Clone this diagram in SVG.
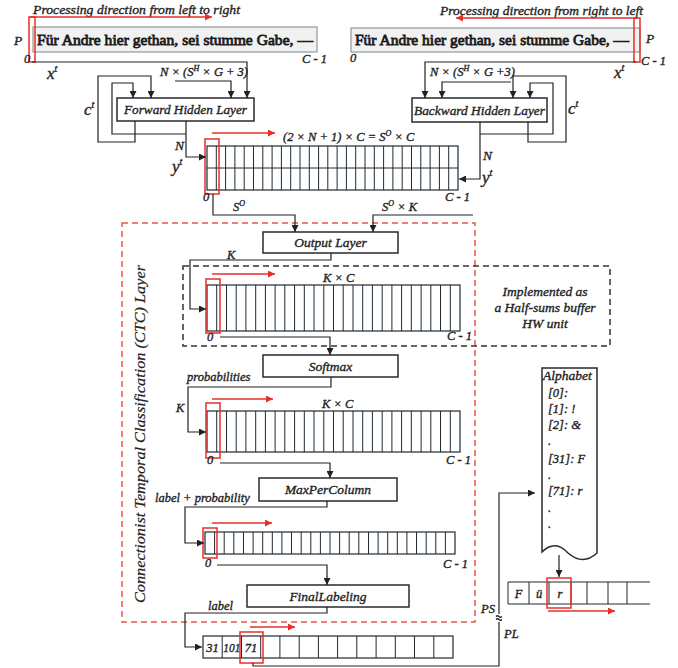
<svg xmlns="http://www.w3.org/2000/svg" width="678" height="668" viewBox="0 0 678 668" font-family="Liberation Serif, serif">
<defs>
<marker id="ah" viewBox="0 0 10 10" refX="10" refY="5" markerWidth="9" markerHeight="7" markerUnits="userSpaceOnUse" orient="auto"><path d="M0,0 L10,5 L0,10 z" fill="#222"/></marker>
<marker id="ahr" viewBox="0 0 10 10" refX="10" refY="5" markerWidth="13" markerHeight="7" markerUnits="userSpaceOnUse" orient="auto"><path d="M0,0 L10,5 L0,10 z" fill="#e3302b"/></marker>
<style>
text{font-family:'Liberation Serif',serif}
.t{font-style:italic;font-weight:normal;fill:#222;stroke:#222;stroke-width:0.35;font-size:12.5px}
.b{font-size:13.5px}
.big{font-size:17px}
.box{fill:#fff;stroke:#2a2a2a;stroke-width:1.5}
.buf{fill:#fff;stroke:#1f2a33;stroke-width:1.2}
.cells{fill:none;stroke:#1f2a33;stroke-width:1}
.red{fill:none;stroke:#e3302b;stroke-width:1.5}
.ra{fill:none;stroke:#e3302b;stroke-width:1.5;marker-end:url(#ahr)}
.c{fill:none;stroke:#222;stroke-width:1.2}
.ca{fill:none;stroke:#222;stroke-width:1.2;marker-end:url(#ah)}
.strip{fill:#f1f1f1;stroke:#7a8790;stroke-width:1}
.frak{font-weight:normal;font-size:15.5px;fill:#1a1a1a;stroke:#1a1a1a;stroke-width:0.8}
</style>
</defs>
<rect width="678" height="668" fill="#fff"/>

<g id="strip-left">
<text class="t b" x="33" y="14" textLength="207" lengthAdjust="spacingAndGlyphs">Processing direction from left to right</text>
<rect class="strip" x="33" y="27" width="284" height="25"/>
<text class="frak" x="37" y="45" textLength="276" lengthAdjust="spacingAndGlyphs">Für Andre hier gethan, sei stumme Gabe, —</text>
<rect class="red" x="29" y="17" width="6" height="45"/>
<path class="ra" d="M30,17 H212"/>
<text class="t b" x="14" y="45">P</text>
<text class="t" x="24" y="63">0</text>
<text class="t" x="302" y="63" font-size="14">C - 1</text>
<text class="t big" x="47" y="79">x<tspan font-size="10" dy="-7">t</tspan></text>
</g>

<g id="strip-right">
<text class="t b" x="440" y="15" textLength="203" lengthAdjust="spacingAndGlyphs">Processing direction from right to left</text>
<rect class="strip" x="351" y="28" width="289" height="24"/>
<text class="frak" x="355" y="45" textLength="274" lengthAdjust="spacingAndGlyphs">Für Andre hier gethan, sei stumme Gabe, —</text>
<rect class="red" x="634" y="18" width="6" height="44"/>
<path class="ra" d="M638,18 H456"/>
<text class="t b" x="646" y="43">P</text>
<text class="t" x="350" y="62">0</text>
<text class="t" x="641" y="65" font-size="13">C - 1</text>
<text class="t big" x="614" y="78">x<tspan font-size="10" dy="-7">t</tspan></text>
</g>

<g id="forward-hidden">
<rect class="box" x="117" y="98" width="137" height="23"/>
<text class="t b" x="185.5" y="114" text-anchor="middle" textLength="123" lengthAdjust="spacingAndGlyphs">Forward Hidden Layer</text>
</g>

<g id="backward-hidden">
<rect class="box" x="412" y="98" width="135" height="24"/>
<text class="t b" x="479.5" y="114.5" text-anchor="middle" textLength="131" lengthAdjust="spacingAndGlyphs">Backward Hidden Layer</text>
</g>

<g id="buffer-hidden">
<rect class="buf" x="207" y="146" width="251" height="44"/>
<path class="cells" d="M207,168H458 M216.3,146V190 M225.6,146V190 M234.9,146V190 M244.2,146V190 M253.5,146V190 M262.8,146V190 M272.1,146V190 M281.4,146V190 M290.7,146V190 M300,146V190 M309.3,146V190 M318.6,146V190 M327.8,146V190 M337.1,146V190 M346.4,146V190 M355.7,146V190 M365,146V190 M374.3,146V190 M383.6,146V190 M392.9,146V190 M402.2,146V190 M411.5,146V190 M420.8,146V190 M430.1,146V190 M439.4,146V190 M448.7,146V190"/>
<rect class="red" x="205" y="139" width="14" height="55"/>
<path class="ra" d="M212,133 H275"/>
<text class="t" x="283" y="141">(2 × N + 1) × C = S<tspan font-size="8" dy="-5">O</tspan><tspan dy="5"> × C</tspan></text>
<text class="t" x="203" y="201">0</text>
<text class="t" x="445" y="201" font-size="13.5">C - 1</text>
</g>

<g id="ctc-layer">
<rect x="122" y="223" width="353" height="399" fill="none" stroke="#e8554d" stroke-width="1.5" stroke-dasharray="6 4"/>
<text x="145" y="434" transform="rotate(-90 145 434)" text-anchor="middle" font-style="italic" font-size="15" fill="#222" stroke="#222" stroke-width="0.2" textLength="338" lengthAdjust="spacingAndGlyphs">Connectionist Temporal Classification (CTC) Layer</text>
</g>

<g id="hw-unit">
<rect x="183" y="266" width="427" height="80" fill="none" stroke="#333" stroke-width="1.5" stroke-dasharray="6 4"/>
<text class="t b" x="545" y="296" text-anchor="middle">Implemented as</text>
<text class="t b" x="545" y="312" text-anchor="middle">a Half-sums buffer</text>
<text class="t b" x="545" y="328" text-anchor="middle">HW unit</text>
</g>

<g id="output-layer">
<rect class="box" x="263" y="232" width="135" height="21"/>
<text class="t b" x="330.5" y="247" text-anchor="middle">Output Layer</text>
</g>

<g id="buffer-kc1">
<rect class="buf" x="207" y="285" width="253" height="46"/>
<path class="cells" d="M216.7,285V331 M226.5,285V331 M236.2,285V331 M245.9,285V331 M255.7,285V331 M265.4,285V331 M275.1,285V331 M284.8,285V331 M294.6,285V331 M304.3,285V331 M314,285V331 M323.8,285V331 M333.5,285V331 M343.2,285V331 M353,285V331 M362.7,285V331 M372.4,285V331 M382.2,285V331 M391.9,285V331 M401.6,285V331 M411.3,285V331 M421.1,285V331 M430.8,285V331 M440.5,285V331 M450.3,285V331"/>
<rect class="red" x="206" y="279" width="14" height="54"/>
<path class="ra" d="M212,274 H275"/>
<text class="t" x="323" y="282">K × C</text>
<text class="t" x="207" y="341" font-size="11">0</text>
<text class="t" x="447" y="340">C - 1</text>
</g>

<g id="softmax">
<rect class="box" x="263" y="355" width="135" height="22"/>
<text class="t b" x="330.5" y="370.5" text-anchor="middle">Softmax</text>
</g>

<g id="buffer-kc2">
<rect class="buf" x="207" y="411" width="253" height="41"/>
<path class="cells" d="M216.7,411V452 M226.5,411V452 M236.2,411V452 M245.9,411V452 M255.7,411V452 M265.4,411V452 M275.1,411V452 M284.8,411V452 M294.6,411V452 M304.3,411V452 M314,411V452 M323.8,411V452 M333.5,411V452 M343.2,411V452 M353,411V452 M362.7,411V452 M372.4,411V452 M382.2,411V452 M391.9,411V452 M401.6,411V452 M411.3,411V452 M421.1,411V452 M430.8,411V452 M440.5,411V452 M450.3,411V452"/>
<rect class="red" x="206" y="403" width="14" height="55"/>
<path class="ra" d="M212,399 H273"/>
<text class="t" x="322" y="408">K × C</text>
<text class="t" x="207" y="464" font-size="11">0</text>
<text class="t" x="446" y="464">C - 1</text>
</g>

<g id="maxpercolumn">
<rect class="box" x="259" y="478" width="138" height="23"/>
<text class="t b" x="328" y="494" text-anchor="middle">MaxPerColumn</text>
</g>

<g id="buffer-max">
<rect class="buf" x="205" y="532" width="250" height="22"/>
<path class="cells" d="M214.6,532V554 M224.2,532V554 M233.8,532V554 M243.5,532V554 M253.1,532V554 M262.7,532V554 M272.3,532V554 M281.9,532V554 M291.5,532V554 M301.2,532V554 M310.8,532V554 M320.4,532V554 M330,532V554 M339.6,532V554 M349.2,532V554 M358.8,532V554 M368.5,532V554 M378.1,532V554 M387.7,532V554 M397.3,532V554 M406.9,532V554 M416.5,532V554 M426.2,532V554 M435.8,532V554 M445.4,532V554"/>
<rect class="red" x="203" y="528" width="14" height="30"/>
<path class="ra" d="M212,523 H272"/>
<text class="t" x="205" y="567" font-size="11">0</text>
<text class="t" x="443" y="568">C - 1</text>
</g>

<g id="finallabeling">
<rect class="box" x="247" y="585" width="162" height="22"/>
<text class="t b" x="328" y="600.5" text-anchor="middle">FinalLabeling</text>
</g>

<g id="buffer-labels">
<rect class="buf" x="203" y="636" width="250" height="22"/>
<path class="cells" d="M222.2,636V658 M241.5,636V658 M260.7,636V658 M279.9,636V658 M299.2,636V658 M318.4,636V658 M337.6,636V658 M356.8,636V658 M376.1,636V658 M395.3,636V658 M414.5,636V658 M433.8,636V658"/>
<text class="t" x="212.6" y="651.5" text-anchor="middle" font-size="12">31</text>
<text class="t" x="231.8" y="651.5" text-anchor="middle" font-size="11.5" textLength="17" lengthAdjust="spacingAndGlyphs">101</text>
<text class="t" x="251.1" y="651.5" text-anchor="middle" font-size="12">71</text>
<rect class="red" x="240" y="632" width="23" height="31"/>
<path class="ra" d="M250,627 H295"/>
</g>

<g id="alphabet">
<path class="box" d="M542,368 H597 V553 Q583,566 568,553 Q555,539 542,552 Z"/>
<text class="t b" x="543" y="380">Alphabet</text>
<text class="t" x="548" y="397">[0]:</text>
<text class="t" x="548" y="413">[1]: !</text>
<text class="t" x="548" y="429">[2]: &amp;</text>
<text class="t" x="548" y="445">.</text>
<text class="t" x="548" y="463">[31]: F</text>
<text class="t" x="548" y="479">.</text>
<text class="t" x="548" y="495">[71]: r</text>
<text class="t" x="548" y="512">.</text>
<text class="t" x="548" y="528">.</text>
</g>

<g id="output-text">
<path class="cells" d="M508,582H650 M508,604H650 M508,582V604 M529,582V604 M549,582V604 M571,582V604 M587,582V604 M608,582V604 M627,582V604"/>
<text class="t" x="518.5" y="598" text-anchor="middle">F</text>
<text class="t" x="539" y="598" text-anchor="middle">ü</text>
<text class="t" x="560" y="598" text-anchor="middle">r</text>
<rect class="red" x="547" y="578" width="24" height="30"/>
<path class="ra" d="M548,611 H615"/>
</g>

<g id="connectors">
<path class="ca" d="M32,62 H247 V98"/>
<path class="ca" d="M175,81 H231 V98"/>
<path class="ca" d="M135,121 V142 H98 V76 H151 V98"/>
<path class="ca" d="M186,134 H112 V83 H133 V98"/>
<path class="ca" d="M186,121 V157 H206"/>
<path class="ca" d="M636,62 H425 V98"/>
<path class="ca" d="M511,82 H442 V98"/>
<path class="ca" d="M528,122 V142 H566 V76 H513 V98"/>
<path class="ca" d="M480,134 H553 V83 H530 V98"/>
<path class="ca" d="M480,122 V179 H459"/>
<path class="ca" d="M213,194 V215 H295 V232"/>
<path class="ca" d="M473,215 H373 V232"/>
<path class="ca" d="M331,253 V260 H190 V309 H206"/>
<path class="ca" d="M220,337 H330 V355"/>
<path class="ca" d="M331,377 V387 H188 V432 H206"/>
<path class="ca" d="M220,463 H330 V478"/>
<path class="ca" d="M327,501 V507 H185 V543 H204"/>
<path class="ca" d="M217,565 H327 V585"/>
<path class="ca" d="M327,607 V613 H185 V647 H202"/>
<path class="c" d="M253,663 V666 H499 V622"/>
<path class="ca" d="M499,614 V493 H535"/>
<path class="c" d="M496,616.5 q1.5,-1.5 3,0 t3,0 M496,619.5 q1.5,-1.5 3,0 t3,0" stroke-width="0.9"/>
<path class="ca" d="M559,555 V577"/>
<text class="t" x="160" y="76">N × (S<tspan font-size="8" dy="-5">H</tspan><tspan dy="5"> × G + 3)</tspan></text>
<text class="t" x="430" y="76">N × (S<tspan font-size="8" dy="-5">H</tspan><tspan dy="5"> × G +3)</tspan></text>
<text class="t big" x="84" y="115">c<tspan font-size="10" dy="-7">t</tspan></text>
<text class="t big" x="568" y="114">c<tspan font-size="10" dy="-7">t</tspan></text>
<text class="t b" x="175" y="150">N</text>
<text class="t big" x="172" y="172">y<tspan font-size="10" dy="-7">t</tspan></text>
<text class="t b" x="483" y="160">N</text>
<text class="t big" x="482" y="183">y<tspan font-size="10" dy="-7">t</tspan></text>
<text class="t" x="233" y="211">S<tspan font-size="8" dy="-5">O</tspan></text>
<text class="t" x="382" y="211">S<tspan font-size="8" dy="-5">O</tspan><tspan dy="5"> × K</tspan></text>
<text class="t" x="227" y="259">K</text>
<text class="t" x="187" y="381">probabilities</text>
<text class="t" x="176" y="412">K</text>
<text class="t" x="155" y="502">label + probability</text>
<text class="t" x="208" y="610">label</text>
<text class="t" x="481" y="613">PS</text>
<text class="t" x="504" y="638">PL</text>
</g>
</svg>
